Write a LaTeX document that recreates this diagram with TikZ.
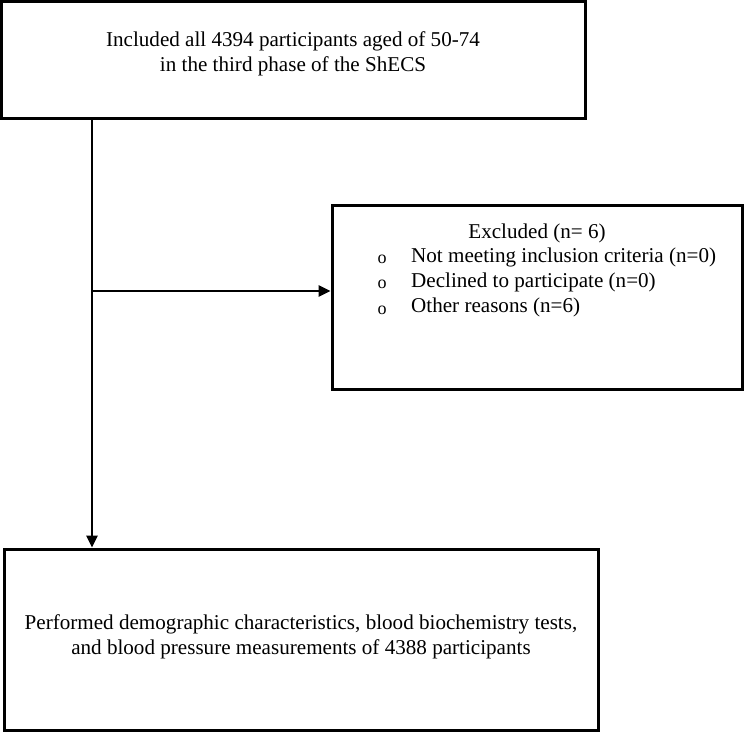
\documentclass[tikz,border=0pt]{standalone}
\usepackage{fontspec}
\setmainfont{Liberation Serif}
\usetikzlibrary{arrows.meta}
\begin{document}
\begin{tikzpicture}[x=1pt,y=-1pt,
  boxstyle/.style={draw=black,line width=3pt,fill=white,inner sep=0pt},
  txt/.style={inner sep=0pt,font=\fontsize{21.1}{25}\selectfont,align=center},
  bul/.style={inner sep=0pt,font=\fontsize{18}{20}\selectfont},
  conn/.style={line width=2.6pt,-{Triangle[length=12pt,width=11pt]}}]
\useasboundingbox (0,0) rectangle (744,732);
\node[boxstyle,minimum width=584pt,minimum height=117pt] (top) at (293,59.5) {};
\node[boxstyle,minimum width=410pt,minimum height=184pt] (excl) at (537,297) {};
\node[boxstyle,minimum width=594pt,minimum height=181pt] (bot) at (301,639.5) {};
\node[txt] (toptext) at (293,54) {Included all 4394 participants aged of 50-74\\in the third phase of the ShECS};
\node[txt] (exhead) at (537,233) {Excluded (n= 6)};
\node[txt,anchor=west] (ex1) at (411,257) {Not meeting inclusion criteria (n=0)};
\node[txt,anchor=west] (ex2) at (411,282) {Declined to participate (n=0)};
\node[txt,anchor=west] (ex3) at (411,307) {Other reasons (n=6)};
\node[bul] (b1) at (382,259) {o};
\node[bul] (b2) at (382,284) {o};
\node[bul] (b3) at (382,310) {o};
\node[txt] (bottext) at (301,637) {Performed demographic characteristics, blood biochemistry tests,\\and blood pressure measurements of 4388 participants};
\coordinate (vtop) at (92,118);
\coordinate (branch) at (93,291);
\draw[conn] (vtop) -- (vtop |- bot.north);
\draw[conn] (branch) -- (branch -| excl.west);
\end{tikzpicture}
\end{document}
